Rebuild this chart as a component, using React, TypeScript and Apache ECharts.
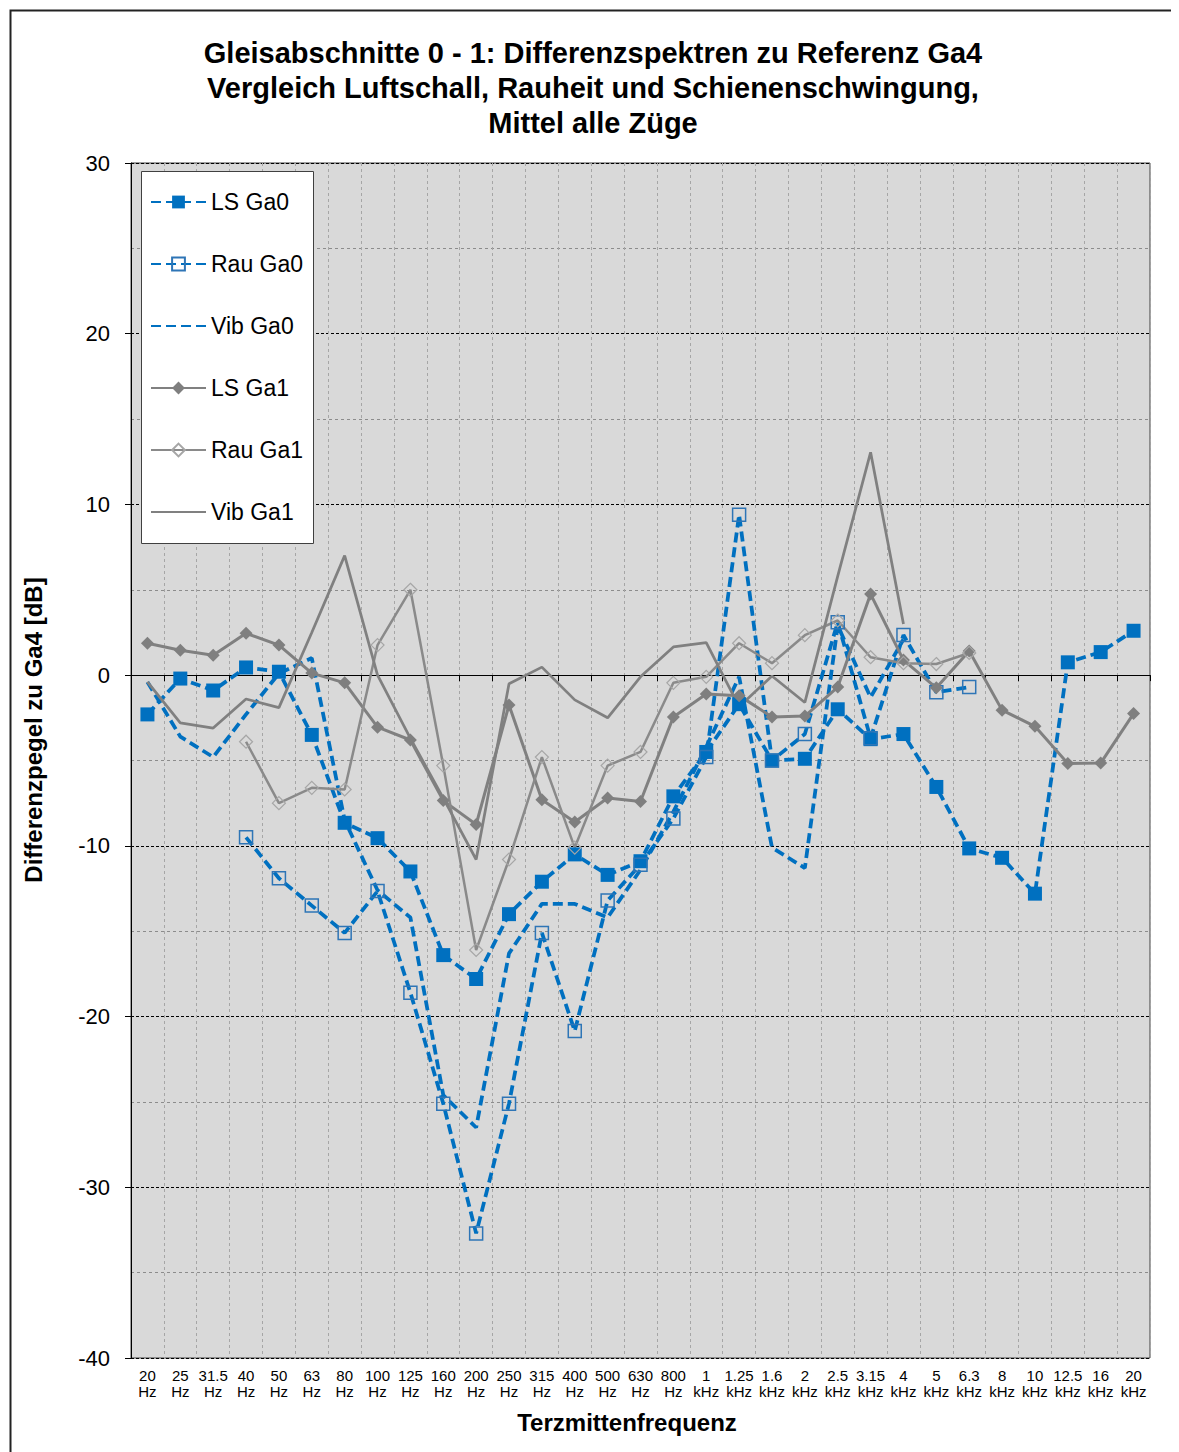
import React, { useEffect, useRef } from 'react';
import * as echarts from 'echarts';

const categories = [
  '20 Hz', '25 Hz', '31.5 Hz', '40 Hz', '50 Hz', '63 Hz', '80 Hz', '100 Hz', '125 Hz', '160 Hz',
  '200 Hz', '250 Hz', '315 Hz', '400 Hz', '500 Hz', '630 Hz', '800 Hz', '1 kHz', '1.25 kHz', '1.6 kHz',
  '2 kHz', '2.5 kHz', '3.15 kHz', '4 kHz', '5 kHz', '6.3 kHz', '8 kHz', '10 kHz', '12.5 kHz', '16 kHz', '20 kHz',
];

const lsGa0 = [
  -2.3, -0.2, -0.9, 0.45, 0.2, -3.5, -8.65, -9.55, -11.5, -16.4,
  -17.8, -14.0, -12.1, -10.5, -11.7, -10.9, -7.1, -4.5, -1.7, -5.0,
  -4.9, -2.0, -3.75, -3.45, -6.55, -10.15, -10.7, -12.8, 0.75, 1.35, 2.6,
];

const rauGa0 = [
  null, null, null, -9.5, -11.9, -13.5, -15.1, -12.65, -18.6, -25.1,
  -32.7, -25.1, -15.1, -20.85, -13.2, -11.1, -8.4, -4.8, 9.4, -5.0,
  -3.45, 3.1, -3.7, 2.35, -1.0, -0.7, null, null, null, null, null,
];

const vibGa0 = [
  -0.4, -3.6, -4.8, -2.3, 0.1, 1.0, -8.5, -12.6, -14.2, -24.6,
  -26.5, -16.3, -13.4, -13.4, -14.2, -11.4, -8.0, -4.2, -0.1, -10.1,
  -11.3, 2.9, -1.3, 2.1, null, null, null, null, null, null, null,
];

const lsGa1 = [
  1.87, 1.46, 1.17, 2.45, 1.76, 0.12, -0.45, -3.05, -3.8, -7.35,
  -8.75, -1.75, -7.3, -8.6, -7.2, -7.4, -2.45, -1.1, -1.2, -2.45,
  -2.4, -0.7, 4.75, 0.88, -0.74, 1.42, -2.05, -3.0, -5.17, -5.15, -2.25,
];

const rauGa1 = [
  null, null, null, -3.9, -7.5, -6.6, -6.7, 1.76, 5.0, -5.3,
  -16.1, -10.8, -4.8, -10.1, -5.3, -4.5, -0.45, -0.1, 1.87, 0.7,
  2.34, 3.2, 1.05, 0.7, 0.65, 1.3, null, null, null, null, null,
];

const vibGa1 = [
  -0.4, -2.8, -3.1, -1.4, -1.9, 2.5, 7.0, 0.0, -3.7, -7.2,
  -10.8, -0.5, 0.47, -1.45, -2.5, -0.1, 1.65, 1.9, -1.85, -0.05,
  -1.6, 5.8, 13.05, 3.0, null, null, null, null, null, null, null,
];

const seriesNames = ['LS Ga0', 'Rau Ga0', 'Vib Ga0', 'LS Ga1', 'Rau Ga1', 'Vib Ga1'];

const titleLines = [
  'Gleisabschnitte 0 - 1: Differenzspektren zu Referenz Ga4',
  'Vergleich Luftschall, Rauheit und Schienenschwingung,',
  'Mittel alle Züge',
];

const FONT = "'Liberation Sans', Arial, sans-serif";
const BLUE = '#0070C0';
const GREY = '#808080';
const DASH = [10, 5];

export default function App() {
  const ref = useRef<HTMLDivElement>(null);

  useEffect(() => {
    document.documentElement.style.overflow = 'hidden';
    document.body.style.overflow = 'hidden';
    const chart = echarts.init(ref.current!, null, { renderer: 'svg' });

    const blueLine = { color: BLUE, width: 3.75, type: DASH };

    const option: any = {
      animation: false,
      textStyle: { fontFamily: FONT },
      grid: {
        left: 123,
        top: 155,
        width: 1019,
        height: 1195,
        show: true,
        backgroundColor: '#D9D9D9',
        borderColor: '#404040',
        borderWidth: 1,
      },
      legend: {
        orient: 'vertical',
        left: 142,
        top: 182,
        padding: 0,
        itemWidth: 55,
        itemHeight: 16,
        itemGap: 38,
        selectedMode: false,
        z: 10,
        data: seriesNames,
        textStyle: { fontFamily: FONT, fontSize: 23, color: '#000', lineHeight: 24 },
      },
      graphic: [
        {
          type: 'rect',
          left: 0,
          top: 0,
          z: 0,
          silent: true,
          shape: { width: 1169, height: 1460 },
          style: { fill: 'none', stroke: '#222', lineWidth: 2 },
        },
        {
          type: 'text',
          x: 585,
          y: 27,
          style: {
            text: titleLines.join('\n'),
            fontFamily: FONT,
            fontSize: 29,
            fontWeight: 'bold',
            lineHeight: 35,
            fill: '#000',
            textAlign: 'center',
            textVerticalAlign: 'top',
          },
        },
        {
          type: 'rect',
          left: 133,
          top: 163,
          z: 5,
          shape: { width: 172, height: 372 },
          style: { fill: '#fff', stroke: '#404040', lineWidth: 1 },
        },
        {
          type: 'text',
          x: 25,
          y: 722,
          rotation: Math.PI / 2,
          style: {
            text: 'Differenzpegel zu Ga4 [dB]',
            fontFamily: FONT,
            fontSize: 24,
            fontWeight: 'bold',
            fill: '#000',
            textAlign: 'center',
            textVerticalAlign: 'middle',
          },
        },
        {
          type: 'text',
          x: 619,
          y: 1414,
          style: {
            text: 'Terzmittenfrequenz',
            fontFamily: FONT,
            fontSize: 24,
            fontWeight: 'bold',
            fill: '#000',
            textAlign: 'center',
            textVerticalAlign: 'middle',
          },
        },
      ],
      xAxis: {
        type: 'category',
        data: categories,
        boundaryGap: true,
        axisLine: { lineStyle: { color: '#000', width: 1 } },
        axisTick: { show: true, interval: 0, length: 6, lineStyle: { color: '#000' } },
        axisLabel: {
          interval: 0,
          fontFamily: FONT,
          fontSize: 15,
          lineHeight: 16,
          margin: 9,
          color: '#000',
          formatter: (v: string) => v.replace(' ', '\n'),
        },
        splitLine: { show: true, interval: 0, lineStyle: { color: '#A6A6A6', type: [3, 3], width: 1 } },
      },
      yAxis: {
        type: 'value',
        min: -40,
        max: 30,
        interval: 10,
        axisLine: { show: true, lineStyle: { color: '#000', width: 1 } },
        axisTick: { show: true, length: 6, lineStyle: { color: '#000' } },
        axisLabel: { fontFamily: FONT, fontSize: 22, color: '#000', margin: 21 },
        splitLine: { show: true, lineStyle: { color: '#000', type: [3, 2], width: 1 } },
        minorTick: { show: false, splitNumber: 2 },
        minorSplitLine: { show: true, lineStyle: { color: '#8C8C8C', type: [3, 3], width: 1 } },
      },
      series: [
        {
          name: 'LS Ga0',
          type: 'line',
          data: lsGa0,
          symbol: 'rect',
          symbolSize: 14,
          lineStyle: blueLine,
          itemStyle: { color: BLUE },
        },
        {
          name: 'Rau Ga0',
          type: 'line',
          data: rauGa0,
          symbol: 'rect',
          symbolSize: 13,
          lineStyle: blueLine,
          itemStyle: { color: 'rgba(0,0,0,0)', borderColor: '#2E75B6', borderWidth: 1.5 },
        },
        {
          name: 'Vib Ga0',
          type: 'line',
          data: vibGa0,
          symbol: 'circle',
          showSymbol: false,
          lineStyle: blueLine,
          itemStyle: { color: BLUE, opacity: 0 },
        },
        {
          name: 'LS Ga1',
          type: 'line',
          data: lsGa1,
          symbol: 'diamond',
          symbolSize: 13,
          lineStyle: { color: GREY, width: 3 },
          itemStyle: { color: '#7F7F7F' },
        },
        {
          name: 'Rau Ga1',
          type: 'line',
          data: rauGa1,
          symbol: 'diamond',
          symbolSize: 13,
          lineStyle: { color: '#8A8A8A', width: 2.5 },
          itemStyle: { color: 'rgba(0,0,0,0)', borderColor: '#A6A6A6', borderWidth: 1.2 },
        },
        {
          name: 'Vib Ga1',
          type: 'line',
          data: vibGa1,
          symbol: 'circle',
          showSymbol: false,
          lineStyle: { color: GREY, width: 2.75 },
          itemStyle: { color: GREY, opacity: 0 },
        },
      ],
    };

    chart.setOption(option);
    return () => chart.dispose();
  }, []);

  return <div ref={ref} style={{ width: 1171, height: 1444 }} />;
}
